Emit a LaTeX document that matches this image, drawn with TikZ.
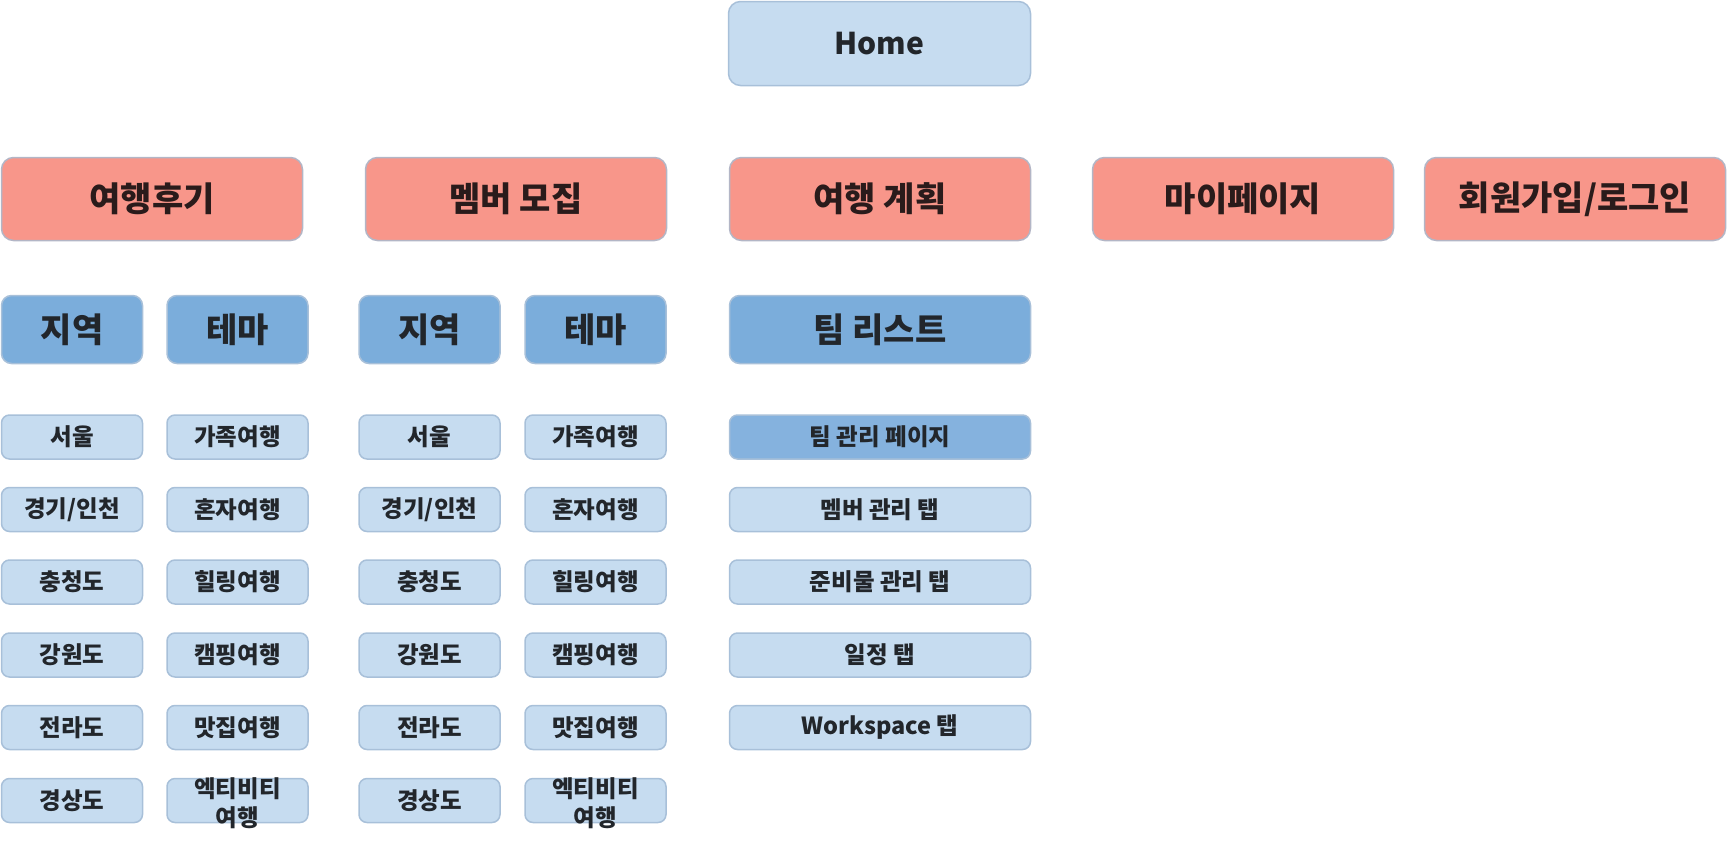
\documentclass[tikz,border=0pt]{standalone}
\usepackage{fontspec}
\setmainfont{Noto Sans CJK KR}
\definecolor{lightblue}{HTML}{C6DCF0}
\definecolor{midblue}{HTML}{7BADDB}
\definecolor{teamblue}{HTML}{85B2DE}
\definecolor{salmon}{HTML}{F8968A}
\definecolor{edge}{HTML}{A8C0D9}
\definecolor{edgered}{HTML}{B3B6C6}
\definecolor{txt}{HTML}{22262B}
\definecolor{txtred}{HTML}{2A1B1B}
\newcommand{\overflowtwo}[2]{\raisebox{-12pt}[0pt][0pt]{\begin{tabular}{@{}c@{}}#1\\#2\end{tabular}}}
\tikzset{
  box/.style={rectangle, draw=edge, line width=1.5pt, inner sep=0pt, align=center, text=txt, font=\bfseries},
  homebox/.style={box, fill=lightblue, rounded corners=12pt, minimum width=302pt, minimum height=84pt, font=\bfseries\fontsize{30}{36}\selectfont},
  topbox/.style={box, draw=edgered, fill=salmon, text=txtred, rounded corners=12pt, minimum width=301pt, minimum height=83pt, font=\bfseries\fontsize{34}{40}\selectfont},
  catbox/.style={box, fill=midblue, rounded corners=10pt, minimum height=68pt, font=\bfseries\fontsize{34}{40}\selectfont},
  leafbox/.style={box, fill=lightblue, rounded corners=8pt, minimum height=44pt, font=\bfseries\fontsize{23.5}{28}\selectfont},
  narrow/.style={minimum width=141pt},
  wide/.style={minimum width=301pt},
}
\begin{document}
\begin{tikzpicture}[x=1pt,y=-1pt]
\useasboundingbox (0,0) rectangle (1727,846);
\node[homebox] (home) at (879.5,43.5) {\raisebox{-3pt}{Home}};
% level 1
\node[topbox] (review) at (152,199) {여행후기};
\node[topbox] (recruit) at (516,199) {멤버 모집};
\node[topbox] (plan) at (880,199) {여행 계획};
\node[topbox] (mypage) at (1243,199) {마이페이지};
\node[topbox] (login) at (1575,199) {회원가입/로그인};
% level 2
\node[catbox, narrow] (r1) at (72,329.5) {지역};
\node[catbox, narrow] (t1) at (237.5,329.5) {테마};
\node[catbox, narrow] (r2) at (429.5,329.5) {지역};
\node[catbox, narrow] (t2) at (595.5,329.5) {테마};
\node[catbox, wide] (teamlist) at (880,329.5) {팀 리스트};
% level 3 : regions (column 1)
\node[leafbox, narrow] (r1a) at (72,437) {서울};
\node[leafbox, narrow] (r1b) at (72,509.5) {경기/인천};
\node[leafbox, narrow] (r1c) at (72,582) {충청도};
\node[leafbox, narrow] (r1d) at (72,655) {강원도};
\node[leafbox, narrow] (r1e) at (72,727.5) {전라도};
\node[leafbox, narrow] (r1f) at (72,800.5) {경상도};
% themes (column 2)
\node[leafbox, narrow] (t1a) at (237.5,437) {가족여행};
\node[leafbox, narrow] (t1b) at (237.5,509.5) {혼자여행};
\node[leafbox, narrow] (t1c) at (237.5,582) {힐링여행};
\node[leafbox, narrow] (t1d) at (237.5,655) {캠핑여행};
\node[leafbox, narrow] (t1e) at (237.5,727.5) {맛집여행};
\node[leafbox, narrow] (t1f) at (237.5,800.5) {\overflowtwo{엑티비티}{여행}};
% regions (column 3)
\node[leafbox, narrow] (r2a) at (429.5,437) {서울};
\node[leafbox, narrow] (r2b) at (429.5,509.5) {경기/인천};
\node[leafbox, narrow] (r2c) at (429.5,582) {충청도};
\node[leafbox, narrow] (r2d) at (429.5,655) {강원도};
\node[leafbox, narrow] (r2e) at (429.5,727.5) {전라도};
\node[leafbox, narrow] (r2f) at (429.5,800.5) {경상도};
% themes (column 4)
\node[leafbox, narrow] (t2a) at (595.5,437) {가족여행};
\node[leafbox, narrow] (t2b) at (595.5,509.5) {혼자여행};
\node[leafbox, narrow] (t2c) at (595.5,582) {힐링여행};
\node[leafbox, narrow] (t2d) at (595.5,655) {캠핑여행};
\node[leafbox, narrow] (t2e) at (595.5,727.5) {맛집여행};
\node[leafbox, narrow] (t2f) at (595.5,800.5) {\overflowtwo{엑티비티}{여행}};
% team column
\node[leafbox, wide, fill=teamblue] (p1) at (880,437) {팀 관리 페이지};
\node[leafbox, wide] (p2) at (880,509.5) {멤버 관리 탭};
\node[leafbox, wide] (p3) at (880,582) {준비물 관리 탭};
\node[leafbox, wide] (p4) at (880,655) {일정 탭};
\node[leafbox, wide] (p5) at (880,727.5) {Workspace 탭};
\end{tikzpicture}
\end{document}
